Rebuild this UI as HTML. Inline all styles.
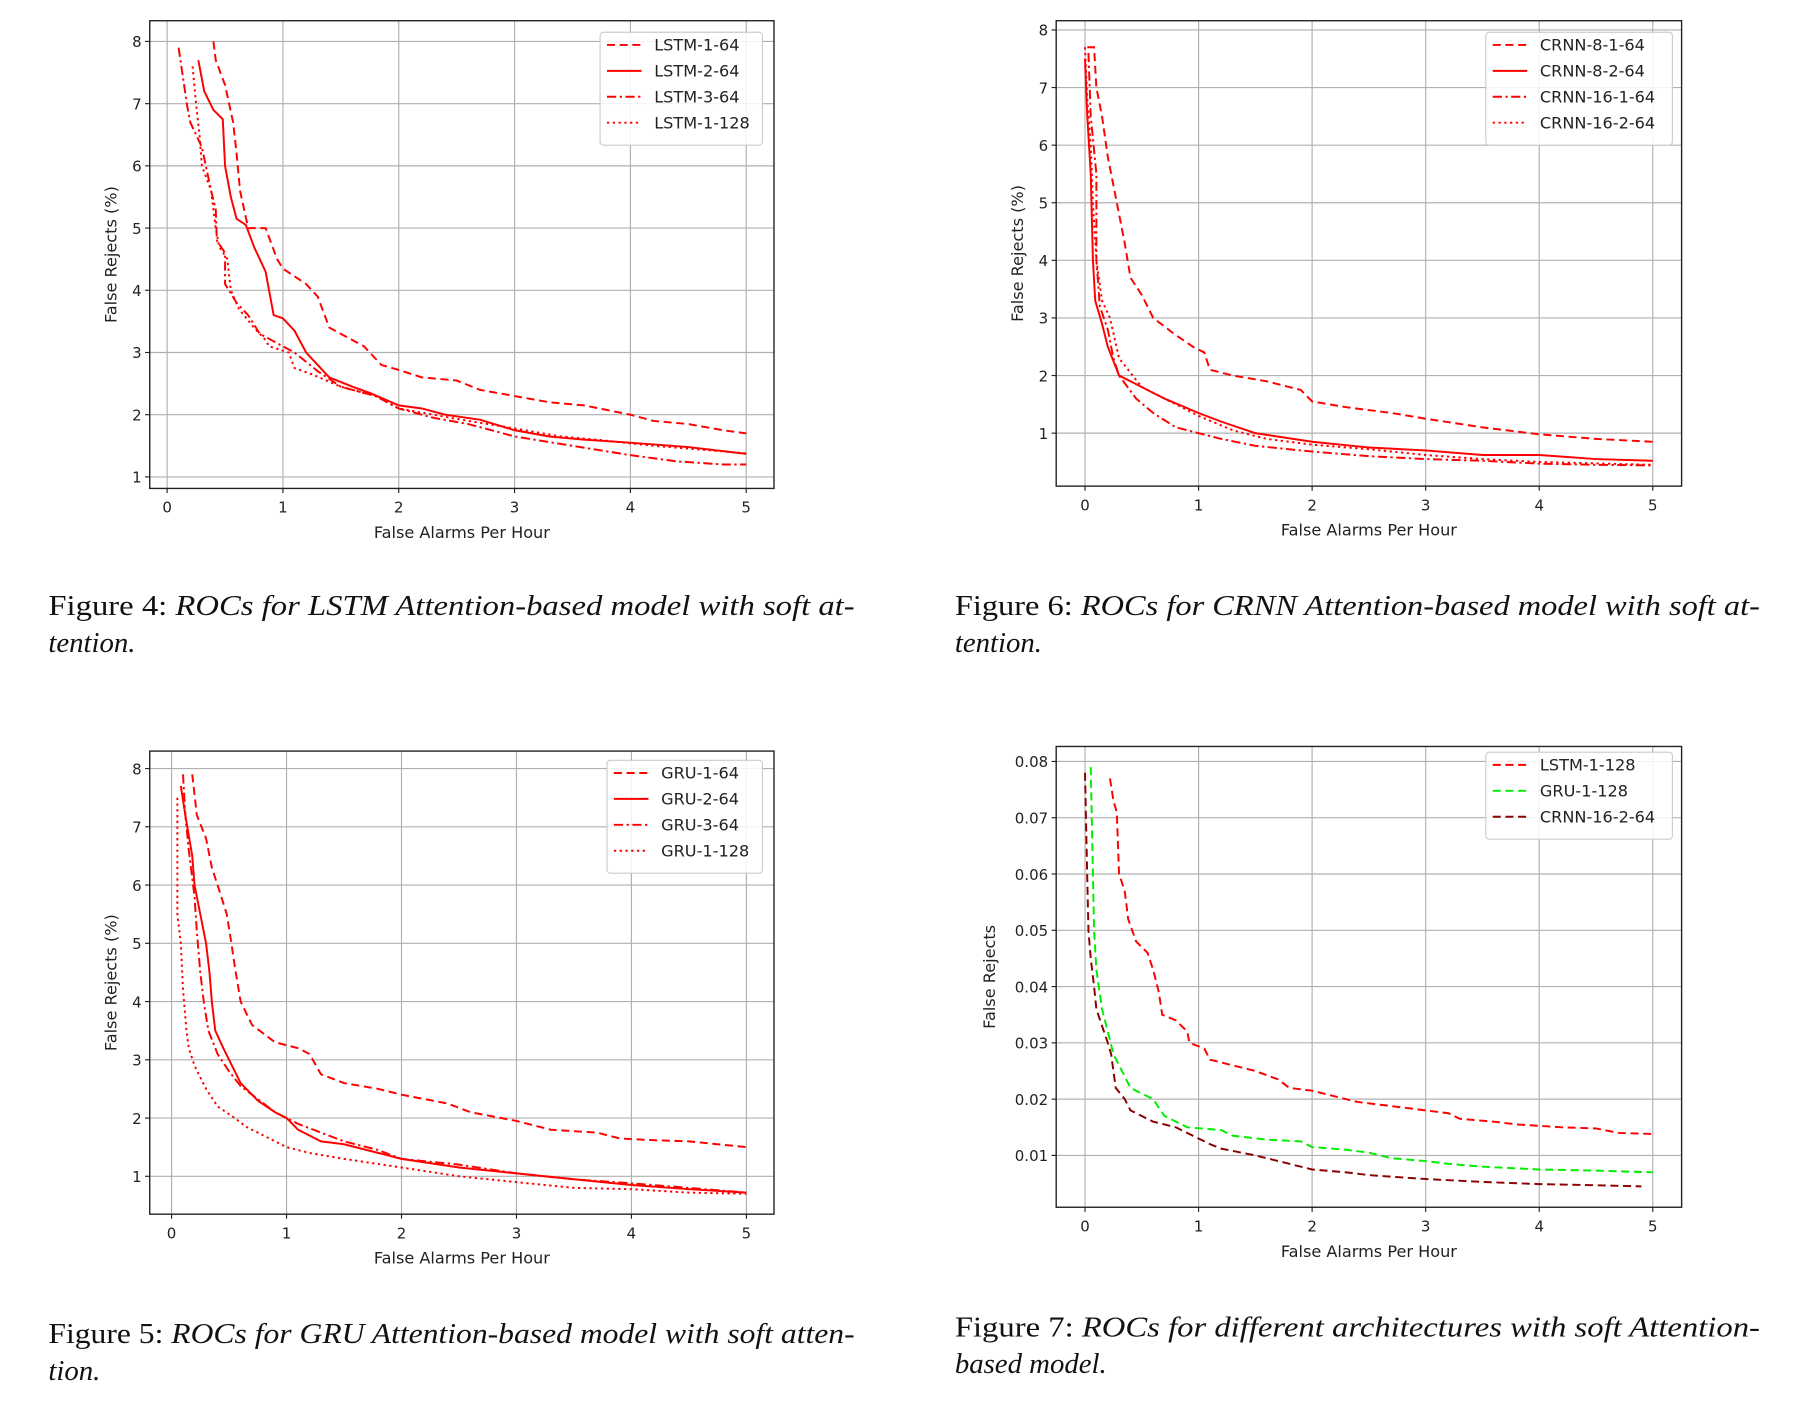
<!DOCTYPE html>
<html><head><meta charset="utf-8"><style>
html,body{margin:0;padding:0;background:#fff;}
svg{display:block;}
.tick{font-family:"DejaVu Sans","Liberation Sans",sans-serif;font-size:13px;fill:#222;}
.lab{font-family:"DejaVu Sans","Liberation Sans",sans-serif;font-size:14px;fill:#222;}
.leg{font-family:"DejaVu Sans","Liberation Sans",sans-serif;font-size:14px;fill:#222;}
.cap{font-family:"Liberation Serif",serif;font-size:25px;fill:#111;}
</style></head><body>
<svg id="root" width="1806" height="1410" viewBox="0 0 1568 1224" preserveAspectRatio="none" xmlns="http://www.w3.org/2000/svg">
<text class="cap" x="42" y="534" textLength="700" lengthAdjust="spacingAndGlyphs">Figure 4:  <tspan font-style="italic">ROCs for LSTM Attention-based model with soft at-</tspan></text>
<text class="cap" x="42" y="566" font-style="italic">tention.</text>
<text class="cap" x="829" y="534" textLength="699" lengthAdjust="spacingAndGlyphs">Figure 6:  <tspan font-style="italic">ROCs for CRNN Attention-based model with soft at-</tspan></text>
<text class="cap" x="829" y="566" font-style="italic">tention.</text>
<text class="cap" x="42" y="1166" textLength="700" lengthAdjust="spacingAndGlyphs">Figure 5: <tspan font-style="italic">ROCs for GRU Attention-based model with soft atten-</tspan></text>
<text class="cap" x="42" y="1198" font-style="italic">tion.</text>
<text class="cap" x="829" y="1160" textLength="699" lengthAdjust="spacingAndGlyphs">Figure 7:  <tspan font-style="italic">ROCs for different architectures with soft Attention-</tspan></text>
<text class="cap" x="829" y="1192" font-style="italic">based model.</text>
</svg>
<script>
// ---- Chart 1: LSTM ----
const lstm164X=[0.4,0.42,0.5,0.57,0.6,0.63,0.7,0.85,0.95,1.0,1.2,1.3,1.4,1.5,1.7,1.85,2.0,2.2,2.5,2.7,3.0,3.3,3.6,4.0,4.2,4.5,4.8,5.0];
const lstm164Y=[8,7.7,7.3,6.7,6.2,5.6,5.0,5.0,4.5,4.35,4.1,3.9,3.4,3.3,3.1,2.8,2.72,2.6,2.55,2.4,2.3,2.2,2.15,2.0,1.9,1.85,1.75,1.7];
const lstm264X=[0.27,0.32,0.4,0.48,0.5,0.55,0.6,0.68,0.75,0.85,0.88,0.92,1.0,1.1,1.2,1.3,1.4,1.6,1.75,2.0,2.2,2.4,2.7,3.0,3.3,3.6,4.0,4.5,5.0];
const lstm264Y=[7.7,7.2,6.9,6.75,6.0,5.5,5.15,5.05,4.7,4.3,4.0,3.6,3.55,3.35,3.0,2.8,2.6,2.45,2.35,2.15,2.1,2.0,1.92,1.75,1.65,1.6,1.55,1.48,1.37];
const lstm364X=[0.1,0.17,0.2,0.3,0.38,0.42,0.43,0.5,0.5,0.6,0.7,0.8,0.9,1.1,1.3,1.5,1.8,2.0,2.3,2.6,3.0,3.5,4.0,4.4,4.8,5.0];
const lstm364Y=[7.9,7.0,6.7,6.3,5.6,5.3,4.8,4.6,4.1,3.8,3.6,3.3,3.2,3.0,2.7,2.45,2.3,2.1,1.95,1.85,1.65,1.5,1.35,1.25,1.2,1.2];
const lstm1128X=[0.22,0.25,0.28,0.3,0.38,0.42,0.45,0.52,0.55,0.62,0.75,0.85,0.88,1.05,1.1,1.25,1.5,1.8,2.0,2.3,2.6,3.0,3.4,3.7,4.2,5.0];
const lstm1128Y=[7.6,7.0,6.5,6.0,5.6,5.0,4.7,4.5,4.0,3.7,3.4,3.2,3.1,3.0,2.75,2.65,2.45,2.3,2.1,2.0,1.9,1.78,1.65,1.6,1.5,1.38];
// ---- Chart 2: CRNN ----
const crnn8164X=[0.02,0.08,0.1,0.15,0.2,0.25,0.3,0.35,0.4,0.5,0.6,0.8,0.95,1.05,1.1,1.3,1.6,1.9,2.0,2.3,2.7,3.0,3.5,4.0,4.5,5.0];
const crnn8164Y=[7.7,7.7,7.0,6.5,5.8,5.3,4.8,4.3,3.7,3.4,3.0,2.7,2.5,2.4,2.1,2.0,1.9,1.75,1.55,1.45,1.35,1.25,1.1,0.98,0.9,0.85];
const crnn8264X=[0.0,0.02,0.05,0.07,0.09,0.15,0.2,0.3,0.5,0.7,1.0,1.2,1.5,2.0,2.5,3.0,3.5,4.0,4.5,5.0];
const crnn8264Y=[7.5,6.5,5.5,4.0,3.3,2.9,2.5,2.0,1.8,1.6,1.35,1.2,1.0,0.85,0.75,0.7,0.62,0.62,0.55,0.52];
const crnn16164X=[0.03,0.05,0.1,0.1,0.13,0.2,0.25,0.3,0.45,0.6,0.8,1.0,1.2,1.5,2.0,2.5,3.0,3.5,4.0,4.5,5.0];
const crnn16164Y=[7.6,6.5,5.5,4.0,3.2,2.8,2.3,2.0,1.6,1.35,1.1,1.0,0.9,0.78,0.68,0.6,0.55,0.52,0.47,0.45,0.44];
const crnn16264X=[0.0,0.02,0.05,0.07,0.1,0.15,0.22,0.3,0.5,0.8,1.0,1.3,1.6,2.0,2.5,3.0,3.5,4.0,5.0];
const crnn16264Y=[7.7,6.8,6.0,5.0,4.0,3.3,3.0,2.3,1.8,1.5,1.3,1.05,0.9,0.8,0.72,0.62,0.55,0.5,0.45];
// ---- Chart 3: GRU ----
const gru164X=[0.18,0.22,0.3,0.35,0.4,0.48,0.52,0.55,0.6,0.7,0.9,1.1,1.2,1.3,1.5,1.8,2.0,2.4,2.6,3.0,3.3,3.7,3.9,4.2,4.5,5.0];
const gru164Y=[7.9,7.2,6.8,6.3,6.0,5.5,5.0,4.6,4.0,3.6,3.3,3.2,3.1,2.75,2.6,2.5,2.4,2.25,2.1,1.95,1.8,1.75,1.65,1.62,1.6,1.5];
const gru264X=[0.08,0.12,0.18,0.2,0.25,0.3,0.33,0.35,0.38,0.45,0.5,0.6,0.75,0.9,1.0,1.1,1.3,1.5,1.8,2.0,2.5,3.0,3.5,4.0,4.5,5.0];
const gru264Y=[7.7,7.2,6.5,6.0,5.5,5.0,4.5,4.0,3.5,3.2,3.0,2.6,2.3,2.1,2.0,1.8,1.6,1.55,1.4,1.3,1.15,1.05,0.95,0.85,0.78,0.72];
const gru364X=[0.1,0.12,0.15,0.2,0.22,0.25,0.28,0.32,0.4,0.5,0.6,0.7,0.9,1.1,1.3,1.5,1.8,2.0,2.5,3.0,3.5,4.0,4.5,5.0];
const gru364Y=[7.9,7.2,6.6,5.8,5.2,4.5,4.0,3.5,3.1,2.8,2.55,2.4,2.1,1.9,1.75,1.6,1.45,1.3,1.2,1.05,0.95,0.88,0.8,0.72];
const gru1128X=[0.05,0.05,0.08,0.1,0.13,0.15,0.2,0.3,0.4,0.55,0.65,0.8,1.0,1.2,1.5,2.0,2.5,3.0,3.5,4.0,4.5,5.0];
const gru1128Y=[7.5,5.5,5.0,4.2,3.5,3.2,2.9,2.5,2.2,2.0,1.85,1.7,1.5,1.4,1.3,1.15,1.0,0.9,0.8,0.78,0.72,0.7];
// ---- Chart 4: architectures ----
const archLstmX=[0.22,0.25,0.28,0.3,0.35,0.38,0.45,0.55,0.6,0.65,0.68,0.8,0.9,0.92,1.05,1.1,1.3,1.5,1.7,1.8,2.0,2.1,2.4,2.6,3.0,3.2,3.3,3.6,3.8,4.2,4.5,4.7,5.0];
const archLstmY=[0.077,0.073,0.071,0.06,0.057,0.052,0.048,0.046,0.043,0.039,0.035,0.034,0.032,0.03,0.029,0.027,0.026,0.025,0.0235,0.022,0.0215,0.021,0.0195,0.019,0.018,0.0175,0.0165,0.016,0.0155,0.015,0.0148,0.014,0.0138];
const archGruX=[0.05,0.07,0.08,0.1,0.15,0.2,0.25,0.3,0.4,0.5,0.6,0.7,0.8,0.9,1.2,1.3,1.6,1.9,2.0,2.3,2.5,2.7,3.0,3.2,3.5,4.0,4.5,5.0];
const archGruY=[0.079,0.06,0.05,0.043,0.036,0.032,0.028,0.026,0.022,0.021,0.02,0.017,0.016,0.015,0.0145,0.0135,0.0128,0.0125,0.0115,0.011,0.0105,0.0095,0.009,0.0085,0.008,0.0075,0.0073,0.007];
const archCrnnX=[0.0,0.02,0.03,0.05,0.08,0.1,0.15,0.2,0.23,0.27,0.35,0.4,0.5,0.6,0.8,0.9,1.0,1.1,1.2,1.5,1.8,2.0,2.3,2.5,3.0,3.5,4.0,4.5,4.9];
const archCrnnY=[0.078,0.059,0.05,0.045,0.04,0.036,0.033,0.03,0.028,0.022,0.02,0.018,0.017,0.016,0.015,0.014,0.013,0.012,0.0112,0.01,0.0085,0.0075,0.007,0.0065,0.0058,0.0053,0.0049,0.0047,0.0045];
const xTicks=[0,1,2,3,4,5];
const yTicksPct=[1,2,3,4,5,6,7,8];
const yTicksFrac=[0.01,0.02,0.03,0.04,0.05,0.06,0.07,0.08];
const yTickLabelsFrac=['0.01','0.02','0.03','0.04','0.05','0.06','0.07','0.08'];

const NS='http://www.w3.org/2000/svg';
const root=document.getElementById('root');
const DASH={dashed:'7,4',solid:'',dashdot:'8,3,2,3',dotted:'2,3'};
function mk(tag,attrs,parent){const e=document.createElementNS(NS,tag);for(const k in attrs)e.setAttribute(k,attrs[k]);(parent||root).appendChild(e);return e;}

function chart(cfg){
  const g=mk('g',{});
  
  
  const xs=v=>cfg.x0+(v-cfg.xmin)/(cfg.xmax-cfg.xmin)*(cfg.x1-cfg.x0);
  const ys=v=>cfg.y1-(v-cfg.ymin)/(cfg.ymax-cfg.ymin)*(cfg.y1-cfg.y0);
  xTicks.forEach(t=>{
    const l=mk('line',{x1:xs(t),x2:xs(t),y1:cfg.y0,y2:cfg.y1,stroke:'#b0b0b0','stroke-width':1},g);
    
    
    mk('line',{x1:xs(t),x2:xs(t),y1:cfg.y1,y2:cfg.y1+4,stroke:'#222','stroke-width':1},g);
    const tx=mk('text',{x:xs(t),y:cfg.y1+21,'text-anchor':'middle',class:'tick'},g);
    tx.textContent=t;
    
    
  });
  cfg.yt.forEach((t,i)=>{
    const l=mk('line',{x1:cfg.x0,x2:cfg.x1,y1:ys(t),y2:ys(t),stroke:'#b0b0b0','stroke-width':1},g);
    
    
    mk('line',{x1:cfg.x0-4,x2:cfg.x0,y1:ys(t),y2:ys(t),stroke:'#222','stroke-width':1},g);
    const tx=mk('text',{x:cfg.x0-7,y:ys(t)+5,'text-anchor':'end',class:'tick'},g);
    tx.textContent=cfg.ytl[i];
    
    
  });
  cfg.series.forEach(s=>{
    const pts=s.x.map((v,i)=>xs(v).toFixed(1)+','+ys(s.y[i]).toFixed(1)).join(' ');
    const p=mk('polyline',{points:pts,fill:'none',stroke:s.color,'stroke-width':1.7,'stroke-dasharray':DASH[s.style]},g);
    
    
  });
  const fr=mk('rect',{x:cfg.x0,y:cfg.y0,width:cfg.x1-cfg.x0,height:cfg.y1-cfg.y0,fill:'none',stroke:'#222','stroke-width':1.2},g);
  
  
  const xl=mk('text',{x:(cfg.x0+cfg.x1)/2,y:cfg.y1+43,'text-anchor':'middle',class:'lab'},g);
  xl.textContent='False Alarms Per Hour';
  
  
  const yc=(cfg.y0+cfg.y1)/2;
  const yl=mk('text',{x:cfg.ylx,y:yc,'text-anchor':'middle',class:'lab',transform:'rotate(-90 '+cfg.ylx+' '+yc+')'},g);
  yl.textContent=cfg.ylabel;
  
  
  const lg=mk('g',{},g);
  
  
  mk('rect',{x:cfg.lx,y:cfg.ly,width:cfg.lw,height:cfg.series.length*22.5+8,rx:3,fill:'#fff','fill-opacity':0.85,stroke:'#ccc','stroke-width':1},lg);
  cfg.series.forEach((s,i)=>{
    const yy=cfg.ly+11+i*22.5;
    mk('line',{x1:cfg.lx+6,x2:cfg.lx+36,y1:yy,y2:yy,stroke:s.color,'stroke-width':1.7,'stroke-dasharray':DASH[s.style]},lg);
    const t=mk('text',{x:cfg.lx+47,y:yy+5,class:'leg'},lg);
    t.textContent=s.label;
    
    
  });
}
const R='#ff0000';
chart({name:'lstm-roc-chart',x0:130,x1:672,y0:18,y1:424,xmin:-0.15,xmax:5.24,ymin:0.8148,ymax:8.333,yt:yTicksPct,ytl:yTicksPct,ylabel:'False Rejects (%)',ylx:101,lx:521,ly:28,lw:141,
 series:[{label:'LSTM-1-64',x:lstm164X,y:lstm164Y,color:R,style:'dashed'},{label:'LSTM-2-64',x:lstm264X,y:lstm264Y,color:R,style:'solid'},{label:'LSTM-3-64',x:lstm364X,y:lstm364Y,color:R,style:'dashdot'},{label:'LSTM-1-128',x:lstm1128X,y:lstm1128Y,color:R,style:'dotted'}]});
chart({name:'crnn-roc-chart',x0:917,x1:1460,y0:18,y1:422,xmin:-0.254,xmax:5.254,ymin:0.08,ymax:8.16,yt:yTicksPct,ytl:yTicksPct,ylabel:'False Rejects (%)',ylx:888,lx:1290,ly:28,lw:162,
 series:[{label:'CRNN-8-1-64',x:crnn8164X,y:crnn8164Y,color:R,style:'dashed'},{label:'CRNN-8-2-64',x:crnn8264X,y:crnn8264Y,color:R,style:'solid'},{label:'CRNN-16-1-64',x:crnn16164X,y:crnn16164Y,color:R,style:'dashdot'},{label:'CRNN-16-2-64',x:crnn16264X,y:crnn16264Y,color:R,style:'dotted'}]});
chart({name:'gru-roc-chart',x0:130,x1:672,y0:652,y1:1054,xmin:-0.19,xmax:5.24,ymin:0.35,ymax:8.3,yt:yTicksPct,ytl:yTicksPct,ylabel:'False Rejects (%)',ylx:101,lx:527,ly:660,lw:135,
 series:[{label:'GRU-1-64',x:gru164X,y:gru164Y,color:R,style:'dashed'},{label:'GRU-2-64',x:gru264X,y:gru264Y,color:R,style:'solid'},{label:'GRU-3-64',x:gru364X,y:gru364Y,color:R,style:'dashdot'},{label:'GRU-1-128',x:gru1128X,y:gru1128Y,color:R,style:'dotted'}]});
chart({name:'architectures-roc-chart',x0:917,x1:1460,y0:648,y1:1048,xmin:-0.254,xmax:5.254,ymin:0.00079,ymax:0.08266,yt:yTicksFrac,ytl:yTickLabelsFrac,ylabel:'False Rejects',ylx:864,lx:1290,ly:653,lw:162,
 series:[{label:'LSTM-1-128',x:archLstmX,y:archLstmY,color:'#ff0000',style:'dashed'},{label:'GRU-1-128',x:archGruX,y:archGruY,color:'#00ee00',style:'dashed'},{label:'CRNN-16-2-64',x:archCrnnX,y:archCrnnY,color:'#8b0000',style:'dashed'}]});
</script>
</body></html>
